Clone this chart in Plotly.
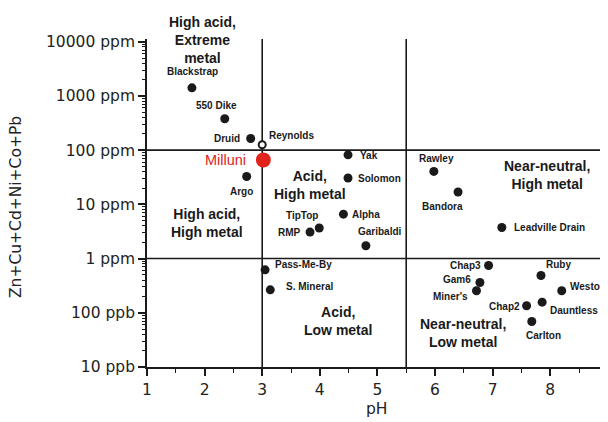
import math
import plotly.graph_objects as go

# ---- data ----
site_names = ["Blackstrap", "550 Dike", "Druid", "Argo", "Yak", "Solomon", "Rawley",
              "Bandora", "TipTop", "RMP", "Alpha", "Garibaldi", "Leadville Drain",
              "Pass-Me-By", "S. Mineral", "Chap3", "Gam6", "Miner's", "Ruby", "Weston",
              "Chap2", "Dauntless", "Carlton"]
site_ph = [1.78, 2.35, 2.80, 2.73, 4.49, 4.49, 5.98,
           6.40, 3.99, 3.83, 4.41, 4.80, 7.16,
           3.05, 3.14, 6.93, 6.78, 6.72, 7.84, 8.20,
           7.59, 7.86, 7.68]
site_ppm = [1410, 380, 164, 32.7, 82, 30.6, 40.5,
            16.9, 3.66, 3.08, 6.6, 1.72, 3.75,
            0.62, 0.265, 0.746, 0.362, 0.255, 0.488, 0.255,
            0.135, 0.157, 0.069]

reynolds_ph = [3.0]
reynolds_ppm = [126]

milluni_ph = [3.02]
milluni_ppm = [66]

ph_bounds = [3, 5.5]
metal_bounds = [100, 1]

y_tickvals = [0.01, 0.1, 1, 10, 100, 1000, 10000]
y_ticktext = ["10 ppb", "100 ppb", "1 ppm", "10 ppm", "100 ppm", "1000 ppm", "10000 ppm"]
x_tickvals = [1, 2, 3, 4, 5, 6, 7, 8, 9]

region_text = ["High acid,<br>Extreme<br>metal", "Acid,<br>High metal",
               "High acid,<br>High metal", "Near-neutral,<br>High metal",
               "Acid,<br>Low metal", "Near-neutral,<br>Low metal"]

x_title = "pH"
y_title = "Zn+Cu+Cd+Ni+Co+Pb"

# ---- styling ----
# label placement (xanchor, xshift px, yshift px)
label_style = {
    "Blackstrap": ("center", 1, 16), "550 Dike": ("center", -8, 13),
    "Druid": ("right", -9, 0), "Argo": ("center", -5, -15),
    "Yak": ("left", 10, -1), "Solomon": ("left", 8, 0),
    "Rawley": ("center", 3, 13), "Bandora": ("center", -16, -14),
    "TipTop": ("center", -17, 13), "RMP": ("right", -7, 0),
    "Alpha": ("left", 7, 0), "Garibaldi": ("center", 14, 14),
    "Leadville Drain": ("left", 10, 0), "Pass-Me-By": ("left", 8, 5),
    "S. Mineral": ("left", 14, 3), "Chap3": ("right", -6, 0),
    "Gam6": ("right", -7, 3), "Miner's": ("right", -6, -6),
    "Ruby": ("left", 3, 11), "Weston": ("left", 6, 4),
    "Chap2": ("right", -5, -1), "Dauntless": ("left", 6, -8),
    "Carlton": ("center", 12, -14),
}
# (x, log10 y, yshift px)
region_pos = [(1.97, 4.0, 2), (3.83, 1.36, 0), (2.04, 0.655, 0), (7.94, 1.54, 0),
              (4.32, -1.15, 0), (6.49, -1.375, 0)]

INK = "#1a1a1a"
AX_FONT = dict(family="DejaVu Sans", size=15.5, color="#222")
LBL_FONT = dict(family="Liberation Sans, Arial", size=10, color=INK)
REG_FONT = dict(family="Liberation Sans, Arial", size=14, color=INK)

X_MAX = 9.177  # axis runs past the window edge so that pH 9 sits at the edge

fig = go.Figure()

ytop = 10 ** 4.05
# quadrant boundary lines
for b in ph_bounds:
    fig.add_trace(go.Scatter(x=[b, b], y=[0.01, ytop], mode="lines",
                             line=dict(color=INK, width=1.6), hoverinfo="skip", showlegend=False))
for b in metal_bounds:
    fig.add_trace(go.Scatter(x=[1, X_MAX], y=[b, b], mode="lines",
                             line=dict(color=INK, width=1.6), hoverinfo="skip", showlegend=False))

fig.add_trace(go.Scatter(x=site_ph, y=site_ppm, mode="markers", text=site_names,
                         marker=dict(color=INK, size=9), showlegend=False, cliponaxis=False))
fig.add_trace(go.Scatter(x=reynolds_ph, y=reynolds_ppm, mode="markers",
                         marker=dict(color="white", size=7, line=dict(color=INK, width=2)),
                         showlegend=False, cliponaxis=False))
fig.add_trace(go.Scatter(x=milluni_ph, y=milluni_ppm, mode="markers",
                         marker=dict(color="#e0241b", size=15), showlegend=False, cliponaxis=False))

ann = []
for n, xv, yv in zip(site_names, site_ph, site_ppm):
    xa, xs, ys = label_style[n]
    ann.append(dict(x=xv, y=math.log10(yv), text="<b>%s</b>" % n, showarrow=False, xanchor=xa,
                    yanchor="middle", xshift=xs, yshift=ys, font=LBL_FONT))
ann.append(dict(x=reynolds_ph[0], y=math.log10(reynolds_ppm[0]), text="<b>Reynolds</b>", showarrow=False,
                xanchor="left", yanchor="middle", xshift=5, yshift=9, font=LBL_FONT))
ann.append(dict(x=milluni_ph[0], y=math.log10(milluni_ppm[0]), text="Milluni", showarrow=False,
                xanchor="right", yanchor="middle", xshift=-15, yshift=0,
                font=dict(family="Liberation Sans, Arial", size=14.5, color="#e0241b")))
for t, (xv, yv, ys) in zip(region_text, region_pos):
    ann.append(dict(x=xv, y=yv, yshift=ys, text="<b>%s</b>" % t, showarrow=False, xanchor="center",
                    yanchor="middle", font=REG_FONT))

fig_w, fig_h = 610, 414
ml, mt, mb = 139, 31, 55
pw, ph = fig_w - ml, fig_h - mt - mb
# axis titles (pixel targets converted to paper coordinates)
ann.append(dict(xref="paper", yref="paper", x=(8 - ml) / pw, y=(fig_h - mb - 199) / ph,
                text=y_title, textangle=-90,
                showarrow=False, xanchor="center", yanchor="middle", font=AX_FONT))
ann.append(dict(xref="paper", yref="paper", x=(369 - ml) / pw, y=(fig_h - mb - 401) / ph,
                text=x_title,
                showarrow=False, xanchor="center", yanchor="middle", font=AX_FONT))

minor_y = [m * 10 ** e for e in range(-2, 4) for m in range(2, 10)]

# page body has an 8px margin, so the figure is offset by 8px
fig.update_layout(
    width=fig_w, height=fig_h, autosize=False,
    margin=dict(l=ml, r=0, t=mt, b=mb),
    plot_bgcolor="white", paper_bgcolor="white",
    annotations=ann,
    xaxis=dict(range=[1, X_MAX], tickmode="array", tickvals=x_tickvals, ticks="outside",
               ticklen=7, tickwidth=1.5, tickcolor=INK, showline=True, linecolor=INK, linewidth=1.8,
               showgrid=False, zeroline=False, tickfont=AX_FONT, automargin=False,
               minor=dict(ticks="outside", ticklen=4, tickwidth=1.2, tickcolor=INK, dtick=0.5, showgrid=False)),
    yaxis=dict(type="log", range=[-2, 4.05], tickmode="array", tickvals=y_tickvals,
               ticktext=y_ticktext, ticks="outside", ticklen=7, tickwidth=1.5, tickcolor=INK,
               showline=True, linecolor=INK, linewidth=1.8, showgrid=False, zeroline=False,
               tickfont=AX_FONT, automargin=False,
               minor=dict(ticks="outside", ticklen=3.5, tickwidth=1, tickcolor=INK,
                          tickmode="array", tickvals=minor_y, showgrid=False)),
)

fig.write_html("out.html")
